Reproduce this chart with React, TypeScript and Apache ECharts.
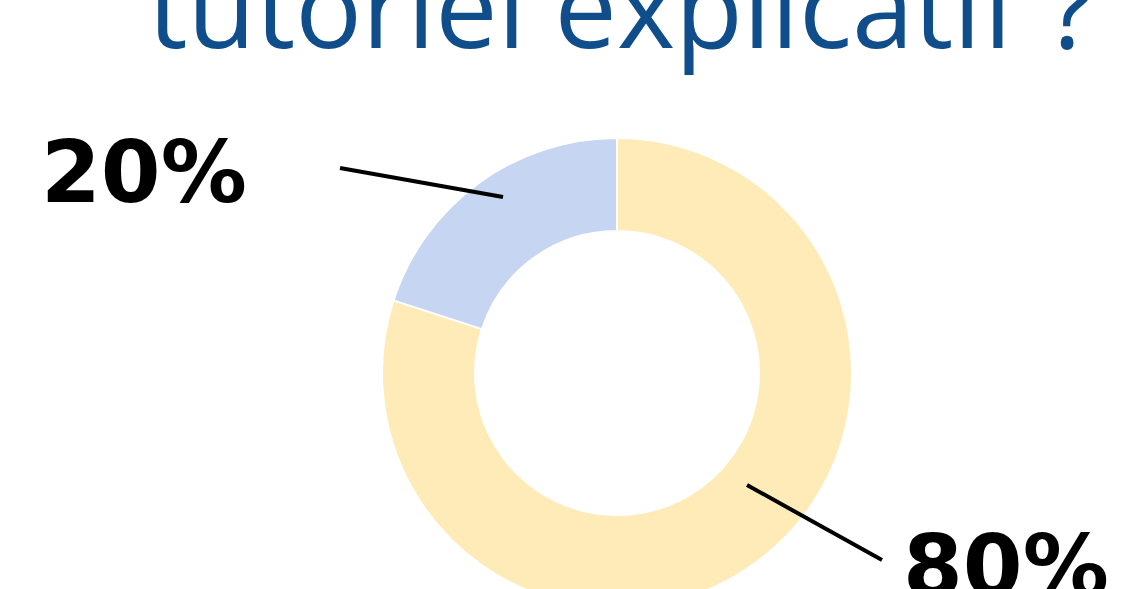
import React, { useEffect, useRef } from "react";
import * as echarts from "echarts";

const titleText = "tutoriel explicatif ?";
const categories = ["Oui", "Non"];
const values = [80, 20];
const sliceColors = ["#FFEBB7", "#C5D5F2"];

// label layout (pixel positions of label text and leader lines)
const labelPos = [
  { x: 903, y: 566, line: [747, 485, 882, 560] },
  { x: 41, y: 172, line: [503, 197, 340, 168] },
];

export default function App() {
  const ref = useRef<HTMLDivElement>(null);
  useEffect(() => {
    if (!ref.current) return;
    const chart = echarts.init(ref.current, null, { renderer: "svg" });
    chart.setOption({
      animation: false,
      backgroundColor: "#ffffff",
      graphic: [
        {
          type: "text",
          x: 148,
          y: 5,
          z: 10,
          style: {
            text: titleText,
            fontFamily: "Open Sans",
            fontSize: 111,
            fill: "#104E8B",
            align: "left",
            verticalAlign: "middle",
          },
        },
        ...labelPos.map((p) => ({
          type: "line",
          z: 100,
          shape: { x1: p.line[0], y1: p.line[1], x2: p.line[2], y2: p.line[3] },
          style: { stroke: "#000000", lineWidth: 4 },
        })),
      ],
      series: [
        {
          type: "pie",
          center: [617, 373],
          radius: [142, 235],
          startAngle: 90,
          clockwise: true,
          avoidLabelOverlap: false,
          itemStyle: { borderColor: "#ffffff", borderWidth: 2 },
          label: {
            show: true,
            position: "outside",
            formatter: "{c}%",
            fontFamily: "DejaVu Sans",
            fontWeight: "bold",
            fontSize: 86,
            color: "#000000",
          },
          labelLine: { show: false },
          labelLayout: (params: any) => {
            const p = labelPos[params.dataIndex];
            return {
              x: p.x,
              y: p.y,
              align: "left",
              verticalAlign: "middle",
            };
          },
          emphasis: { disabled: true },
          data: categories.map((name, i) => ({
            name,
            value: values[i],
            itemStyle: { color: sliceColors[i] },
          })),
        },
      ],
    });
    return () => chart.dispose();
  }, []);
  return (
    <div
      ref={ref}
      style={{ position: "absolute", left: 0, top: 0, width: 1131, height: 589 }}
    />
  );
}
